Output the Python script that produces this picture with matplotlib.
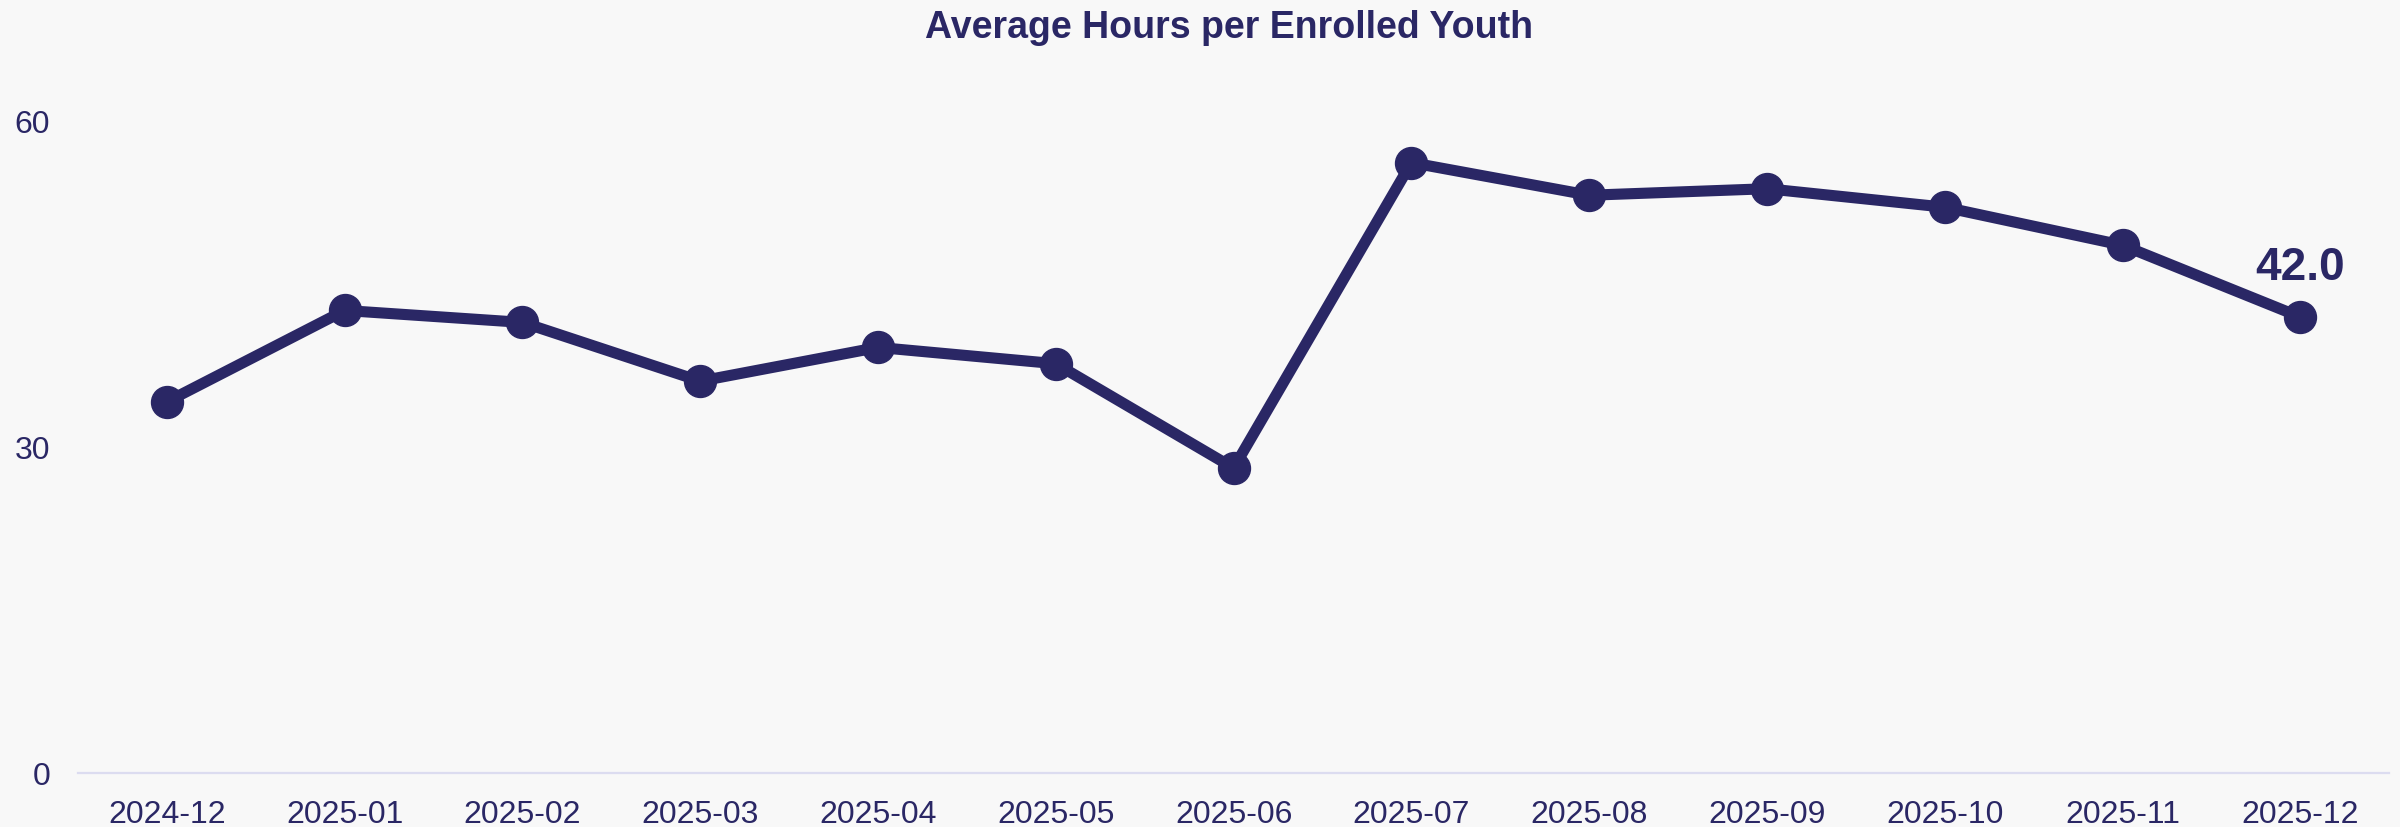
import matplotlib
matplotlib.use("Agg")
import matplotlib.pyplot as plt

# monthly average hours per enrolled youth
months = ["2024-12", "2025-01", "2025-02", "2025-03", "2025-04", "2025-05", "2025-06",
          "2025-07", "2025-08", "2025-09", "2025-10", "2025-11", "2025-12"]
avg_hours = [34.2, 42.6, 41.5, 36.1, 39.2, 37.7, 28.1, 56.2, 53.2, 53.8, 52.1, 48.6, 42.0]
y_ticks = [0, 30, 60]

navy = "#2a2765"
bg = "#f8f8f8"

plt.rcParams['font.family'] = ['Liberation Sans', 'DejaVu Sans']

fig = plt.figure(figsize=(24, 8.27), dpi=100, facecolor=bg)
ax = fig.add_axes([0.0325, 0.0647, 0.963, 0.8543])
ax.set_facecolor(bg)

x = list(range(len(months)))
ax.plot(x, avg_hours, color=navy, linewidth=8, marker='o', markersize=23,
        solid_joinstyle='round', solid_capstyle='round', zorder=3)

# label the last value
ax.annotate(f"{avg_hours[-1]:.1f}", xy=(x[-1], avg_hours[-1]), xytext=(0, 26.5),
            textcoords='offset points', ha='center', va='baseline',
            fontsize=33, fontweight='bold', color=navy)

ax.set_xlim(-0.5, len(months) - 0.5)
ax.set_ylim(0, 65)
ax.set_xticks(x)
ax.set_xticklabels(months)
ax.set_yticks(y_ticks)
ax.tick_params(axis='both', length=0, labelsize=23, labelcolor=navy)
ax.tick_params(axis='x', pad=19)
ax.tick_params(axis='y', pad=20)

for side in ['top', 'right', 'left']:
    ax.spines[side].set_visible(False)
ax.spines['bottom'].set_color('#dcdcf0')
ax.spines['bottom'].set_linewidth(1.6)

fig.text(0.512, 0.954, "Average Hours per Enrolled Youth", ha='center', va='baseline',
         fontsize=27, fontweight='bold', color=navy)

fig.savefig("out.png", dpi=100, facecolor=bg)
